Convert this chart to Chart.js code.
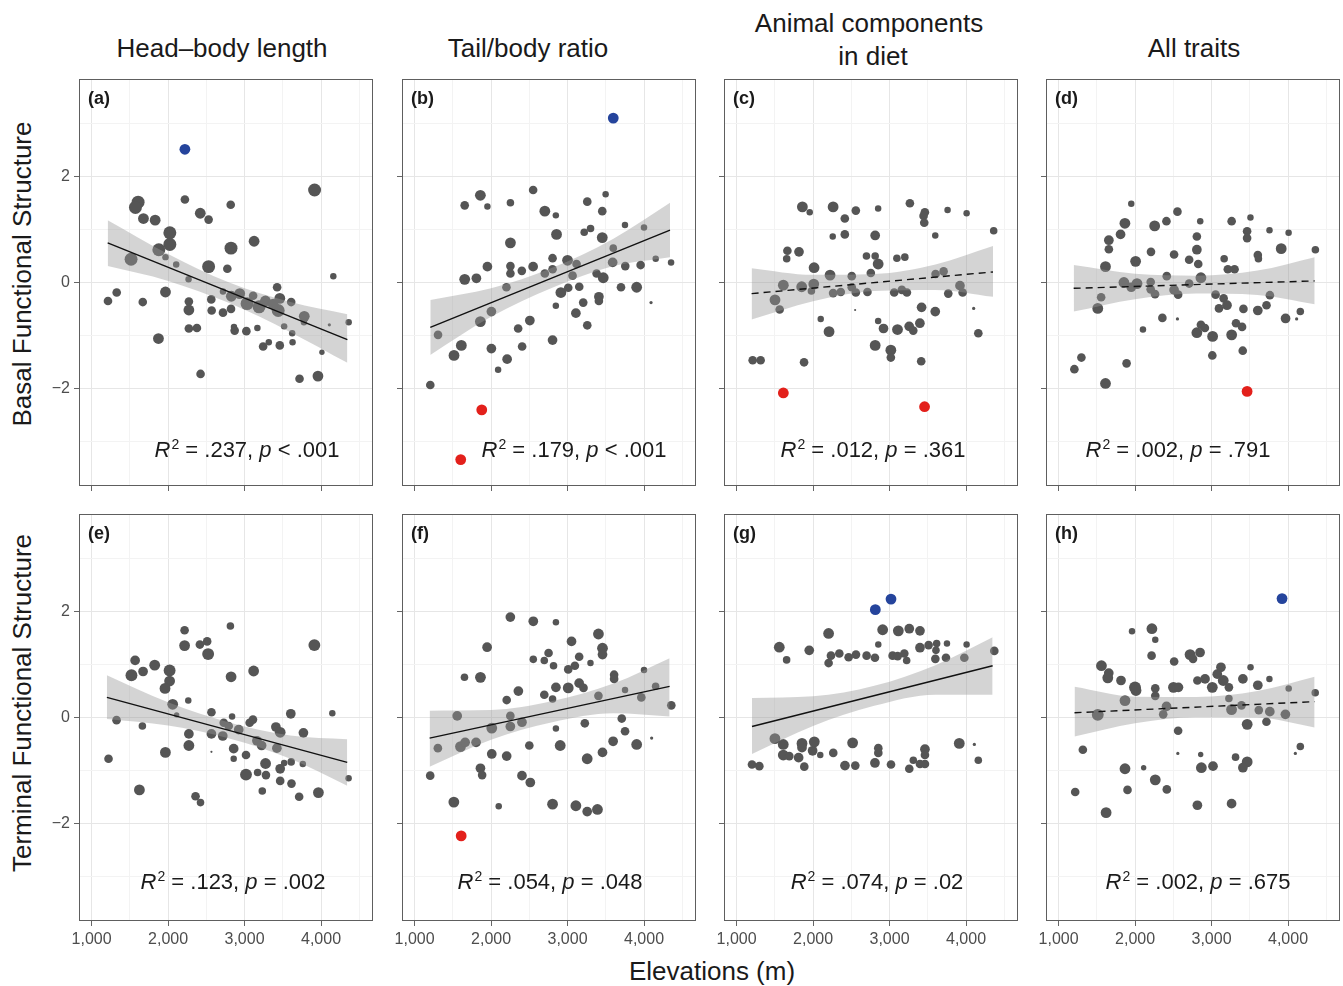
<!DOCTYPE html>
<html>
<head>
<meta charset="utf-8">
<title>Functional structure vs elevation</title>
<script src="https://cdn.jsdelivr.net/npm/chart.js@4.4.0/dist/chart.umd.min.js"></script>
<style>
  html, body { margin: 0; padding: 0; background: #fff; }
  body {
    width: 1343px; height: 986px; position: relative; overflow: hidden;
    font-family: "Liberation Sans", Arial, sans-serif; color: #1a1a1a;
  }
  .txt { position: absolute; transform: translate(-50%, -50%); white-space: nowrap; }
  .col-title { font-size: 26px; }
  .row-title { font-size: 26px; transform: translate(-50%, -50%) rotate(-90deg); }
  .axis-title { font-size: 26px; }
  .tag { position: absolute; font-size: 18px; font-weight: bold; transform: translateY(-50%); }
  .stat { font-size: 22px; }
  .stat sup { font-size: 14px; position: relative; top: -8px; vertical-align: baseline; line-height: 0; margin-left: 1px; }
  canvas { position: absolute; }
</style>
</head>
<body>
<div class="txt col-title" style="left:222px; top:48px;">Head–body length</div>
<div class="txt col-title" style="left:528px; top:48px;">Tail/body ratio</div>
<div class="txt col-title" style="left:869px; top:23px;">Animal components</div>
<div class="txt col-title" style="left:873px; top:56px;">in diet</div>
<div class="txt col-title" style="left:1194px; top:48px;">All traits</div>
<div class="txt row-title" style="left:22px; top:274px;">Basal Functional Structure</div>
<div class="txt row-title" style="left:22px; top:703px;">Terminal Functional Structure</div>
<div class="txt axis-title" style="left:712px; top:971px;">Elevations (m)</div>

<script>
// axis ticks
const elevTicks = [1000, 1500, 2000, 2500, 3000, 3500, 4000, 4500];
const elevLabels = ["1,000", "", "2,000", "", "3,000", "", "4,000", ""];
const scoreTicks = [-3, -2, -1, 0, 1, 2, 3];
const scoreLabels = ["", "\u22122", "", "0", "", "2", ""];

const panelTags = ["(a)", "(b)", "(c)", "(d)", "(e)", "(f)", "(g)", "(h)"];
const r2Values = [".237", ".179", ".012", ".002", ".123", ".054", ".074", ".002"];
const pValues = ["< .001", "< .001", "= .361", "= .791", "= .002", "= .048", "= .02", "= .675"];

// (a) Head-body length, basal
const aElev = [3916, 2220, 1608, 1573, 2819, 2421, 2530, 1678, 1831, 2023, 2023, 1879, 1516, 1966, 2106, 3125, 2823, 2530, 2775, 4161, 2268, 1214, 1328, 1669, 1966, 2272, 2272, 2565, 2570, 2718, 2718, 2827, 2823, 2937, 3033, 3112, 3190, 3273, 3426, 3461, 3440, 3374, 3610, 3781, 3777, 4109, 4362, 2272, 2377, 2862, 2871, 3024, 3168, 3518, 1874, 3243, 3317, 3461, 3623, 3628, 4012, 2425, 3719, 3960];
const aScore = [1.75, 1.57, 1.52, 1.42, 1.47, 1.31, 1.19, 1.21, 1.18, 0.94, 0.72, 0.62, 0.44, 0.48, 0.34, 0.78, 0.65, 0.30, 0.26, 0.12, 0.06, -0.35, -0.19, -0.37, -0.18, -0.36, -0.52, -0.32, -0.53, -0.57, -0.17, -0.26, -0.50, -0.21, -0.40, -0.25, -0.46, -0.35, -0.09, -0.30, -0.53, -0.41, -0.37, -0.64, -0.75, -0.80, -0.75, -0.87, -0.86, -0.84, -0.91, -0.92, -0.86, -0.83, -1.06, -1.21, -1.13, -1.19, -0.96, -1.13, -1.32, -1.73, -1.82, -1.77];
const aSize = [6, 4, 6, 6, 4, 5, 4, 5, 5, 6, 6, 6, 6, 3, 3, 5, 6, 6, 4, 3, 3, 4, 4, 4, 5, 4, 5, 4, 4, 4, 3, 5, 4, 5, 6, 4, 6, 5, 4, 5, 6, 5, 4, 5, 3, 1.5, 3, 4, 4, 3, 4, 4, 3, 3, 5, 4, 3, 4, 3, 3, 2.5, 4, 4, 5];
const aOddElev = [2220];
const aOddScore = [2.52];
const aOddColor = ["blue"];
const aFitElev = [1210, 4345];
const aFitScore = [0.75, -1.08];
const aBandElev = [1210, 2000, 2800, 3600, 4345];
const aBandUpper = [1.18, 0.54, 0.0, -0.37, -0.60];
const aBandLower = [0.31, 0.03, -0.39, -0.94, -1.52];

// (b) Tail/body ratio, basal
const bElev = [1205, 1860, 1655, 1952, 2253, 2550, 2703, 2847, 3258, 3498, 3454, 2253, 2856, 3218, 3301, 3454, 3751, 4000, 3598, 1952, 2253, 2253, 2402, 2550, 2703, 2804, 2804, 3000, 3118, 3066, 3380, 3467, 3590, 3755, 3956, 4153, 4354, 1655, 1808, 2201, 2913, 3009, 3153, 3410, 3410, 3699, 3904, 4092, 3205, 2847, 3109, 3258, 2004, 1860, 2507, 2354, 1306, 1611, 1515, 2004, 2406, 2804, 2210, 2092];
const bScore = [-1.94, 1.65, 1.46, 1.44, 1.51, 1.75, 1.35, 1.27, 1.53, 1.67, 1.35, 0.75, 0.91, 0.95, 1.02, 0.85, 1.09, 1.04, 0.65, 0.30, 0.31, 0.17, 0.22, 0.30, 0.17, 0.46, 0.25, 0.42, 0.35, 0.13, 0.17, 0.09, 0.38, 0.31, 0.33, 0.45, 0.38, 0.06, 0.08, -0.09, -0.19, -0.10, -0.08, -0.27, -0.35, -0.09, -0.09, -0.38, -0.38, -0.44, -0.58, -0.81, -0.55, -0.74, -0.72, -0.87, -0.99, -1.19, -1.38, -1.25, -1.21, -1.09, -1.45, -1.65];
const bSize = [4, 5, 4, 3, 3.5, 4, 5, 3, 4, 3, 4, 5, 5, 3.5, 3.5, 5, 3, 3, 3.5, 4.5, 4, 4, 4, 4.5, 4, 4, 4, 5, 4, 4, 4, 5, 4.5, 4, 4, 3, 3, 5, 4.5, 4, 5, 4, 4, 4.5, 4, 4, 5, 1.5, 4, 3, 4.5, 4, 4.5, 5, 4.5, 4, 4, 5, 5, 4.5, 4, 4.5, 4.5, 3];
const bOddElev = [3598, 1878, 1603];
const bOddScore = [3.11, -2.41, -3.35];
const bOddColor = ["blue", "red", "red"];
const bFitElev = [1205, 4340];
const bFitScore = [-0.85, 0.99];
const bBandElev = [1205, 2000, 2800, 3600, 4340];
const bBandUpper = [-0.33, -0.11, 0.28, 0.83, 1.51];
const bBandLower = [-1.37, -0.65, -0.10, 0.31, 0.48];

// (c) Animal components in diet, basal
const cElev = [1860, 1956, 2262, 2415, 2559, 2851, 3266, 3462, 3445, 3454, 3759, 4008, 4362, 2257, 2415, 2812, 3598, 1664, 1655, 1816, 2698, 2812, 2851, 3096, 3200, 2013, 2222, 2506, 2755, 3602, 3707, 1611, 1851, 2009, 1502, 1563, 1978, 2262, 2362, 2506, 2559, 2711, 3061, 3161, 3227, 3768, 3921, 3956, 2550, 3419, 3598, 4100, 2100, 2209, 2851, 2921, 3104, 3257, 3310, 3397, 4161, 2812, 3017, 3017, 1210, 1314, 1882, 3414];
const cScore = [1.43, 1.33, 1.43, 1.21, 1.36, 1.40, 1.50, 1.33, 1.26, 1.13, 1.37, 1.31, 0.98, 0.87, 0.91, 0.89, 0.89, 0.60, 0.45, 0.58, 0.50, 0.50, 0.35, 0.46, 0.48, 0.28, 0.14, 0.12, 0.18, 0.16, 0.21, -0.05, -0.08, -0.03, -0.33, -0.51, -0.16, -0.20, -0.18, -0.09, -0.19, -0.18, -0.19, -0.14, -0.19, -0.21, -0.06, -0.19, -0.52, -0.47, -0.55, -0.49, -0.69, -0.93, -0.73, -0.87, -0.89, -0.83, -0.91, -0.77, -0.96, -1.19, -1.28, -1.42, -1.47, -1.47, -1.51, -1.49];
const cSize = [5, 3, 5, 4, 4, 3, 4, 4, 4, 4, 3, 3, 3.5, 3, 4, 4.5, 3, 4, 3.5, 4.5, 3.5, 3.5, 5, 3.5, 3.5, 5, 5, 4, 4, 4, 4, 5, 5, 5, 5, 4, 3.5, 4, 4, 4, 4, 4, 4, 4, 4, 4, 4.5, 4, 1, 4.5, 4.5, 1.5, 3, 5, 3, 4.5, 5, 4.5, 4, 4.5, 4, 5, 5, 4, 4, 4, 4, 4];
const cOddElev = [1611, 3458];
const cOddScore = [-2.09, -2.35];
const cOddColor = ["red", "red"];
const cFitElev = [1196, 4353];
const cFitScore = [-0.21, 0.20];
const cBandElev = [1196, 2000, 2800, 3600, 4353];
const cBandUpper = [0.27, 0.145, 0.16, 0.34, 0.69];
const cBandLower = [-0.70, -0.355, -0.16, -0.14, -0.27];

// (d) All traits, basal
const dElev = [1950, 2554, 1867, 2256, 2410, 2852, 3263, 3509, 3465, 3465, 3758, 4008, 1810, 1657, 1657, 2808, 2808, 2208, 2510, 2007, 2707, 2826, 3165, 3213, 3301, 3605, 3613, 3911, 4358, 1613, 2414, 2861, 1854, 1950, 2025, 2204, 2261, 2204, 2510, 2563, 2707, 3053, 3158, 3097, 3202, 3763, 1556, 1512, 3417, 3605, 3719, 4161, 4113, 3968, 2357, 2554, 2103, 2861, 2913, 2808, 3014, 3263, 3320, 3399, 3408, 3010, 1298, 1206, 1889, 1613];
const dScore = [1.49, 1.34, 1.12, 1.07, 1.16, 1.16, 1.16, 1.23, 0.97, 0.84, 0.99, 0.94, 0.91, 0.80, 0.63, 0.87, 0.62, 0.58, 0.53, 0.40, 0.43, 0.35, 0.45, 0.25, 0.25, 0.52, 0.45, 0.64, 0.62, 0.30, 0.12, 0.09, 0.00, -0.09, -0.02, 0.01, -0.22, -0.13, -0.14, -0.23, -0.02, -0.23, -0.30, -0.49, -0.43, -0.24, -0.28, -0.49, -0.50, -0.53, -0.43, -0.55, -0.69, -0.68, -0.67, -0.69, -0.89, -0.80, -0.86, -0.95, -1.02, -0.99, -0.77, -0.84, -1.29, -1.38, -1.42, -1.64, -1.53, -1.91];
const dSize = [3, 4, 5, 5, 4, 3, 4, 3, 4, 4, 3, 3, 4.5, 4.5, 4, 4, 4.5, 4, 4, 5, 4, 4, 3.5, 4, 4, 4, 3.5, 5, 3.5, 5, 4, 5, 5, 4.5, 5, 4, 4, 4, 4.5, 4, 4, 4, 4, 4, 4.5, 4, 4, 5, 4, 4.5, 4, 3.5, 1.5, 4.5, 4, 1.5, 3, 4, 4, 5, 5, 5, 4, 4, 4, 4, 4, 4, 4, 5];
const dOddElev = [3465];
const dOddScore = [-2.06];
const dOddColor = ["red"];
const dFitElev = [1197, 4349];
const dFitScore = [-0.11, 0.03];
const dBandElev = [1197, 2000, 2800, 3600, 4349];
const dBandUpper = [0.33, 0.165, 0.13, 0.225, 0.48];
const dBandLower = [-0.55, -0.315, -0.21, -0.235, -0.41];

// (e) Head-body length, terminal
const eElev = [2815, 2216, 2216, 2416, 2511, 2524, 3913, 1569, 1521, 1673, 1825, 2020, 2020, 3119, 2824, 1960, 2060, 2264, 2112, 2567, 2837, 3605, 4148, 1326, 1664, 2272, 2272, 2567, 2715, 2728, 2793, 2924, 3067, 3110, 3162, 3223, 3410, 3466, 3423, 3770, 2567, 2858, 2858, 3019, 3275, 3518, 3610, 3762, 1221, 1965, 3019, 3171, 3280, 3466, 3466, 3614, 4361, 1625, 3232, 3714, 3966, 2359, 2424];
const eScore = [1.73, 1.65, 1.36, 1.38, 1.44, 1.20, 1.37, 1.08, 0.80, 0.87, 0.99, 0.89, 0.69, 0.88, 0.77, 0.55, 0.25, 0.32, 0.05, 0.10, 0.02, 0.07, 0.08, -0.05, -0.16, -0.31, -0.53, -0.31, -0.35, -0.10, -0.16, -0.23, -0.10, -0.04, -0.44, -0.53, -0.18, -0.28, -0.58, -0.29, -0.65, -0.59, -0.78, -0.71, -0.87, -0.86, -0.84, -0.88, -0.78, -0.66, -1.08, -1.04, -1.09, -0.97, -1.20, -1.25, -1.15, -1.37, -1.39, -1.50, -1.42, -1.49, -1.61];
const eSize = [3.5, 4, 5, 4, 4, 5.5, 5.5, 4.5, 5.5, 4.5, 5, 5.5, 5, 5, 5, 5, 5, 3, 2.5, 4, 3, 4.5, 3, 4, 3.5, 4.5, 5, 4.5, 4.5, 4, 4, 4.5, 4, 4, 4.5, 4.5, 4.5, 5, 4.5, 4.5, 1, 4.5, 3, 4, 5, 3, 3.5, 3, 4, 5, 5.5, 3.5, 4, 4.5, 4, 4, 3, 5, 3.5, 4, 5, 4, 3.5];
const eOddElev = [];
const eOddScore = [];
const eOddColor = [];
const eFitElev = [1200, 4343];
const eFitScore = [0.38, -0.85];
const eBandElev = [1200, 2000, 2800, 3600, 4343];
const eBandUpper = [0.80, 0.287, -0.096, -0.339, -0.41];
const eBandLower = [-0.03, -0.153, -0.396, -0.779, -1.29];

// (f) Tail/body ratio, terminal
const fElev = [2252, 2552, 2848, 3404, 1948, 3052, 3457, 3457, 2752, 2552, 2696, 2817, 3152, 3300, 3009, 3096, 1652, 1861, 4000, 3609, 3609, 2357, 2848, 3009, 3152, 3209, 2696, 2804, 2204, 3404, 3752, 3965, 4152, 4357, 1557, 2252, 2404, 2252, 2009, 2848, 3226, 3709, 3752, 1304, 1600, 1661, 1804, 2500, 2904, 3596, 3904, 4100, 2009, 2204, 3457, 3257, 1204, 1861, 1883, 2404, 2513, 1513, 2100, 2804, 3109, 3257, 3391];
const fScore = [1.90, 1.82, 1.80, 1.58, 1.33, 1.44, 1.31, 1.19, 1.22, 1.10, 1.08, 0.98, 1.15, 1.03, 0.91, 0.98, 0.76, 0.76, 0.90, 0.81, 0.73, 0.50, 0.57, 0.56, 0.65, 0.56, 0.43, 0.35, 0.33, 0.41, 0.52, 0.38, 0.59, 0.23, 0.03, 0.03, -0.09, -0.17, -0.20, -0.21, -0.11, -0.02, -0.26, -0.58, -0.55, -0.47, -0.47, -0.53, -0.53, -0.45, -0.51, -0.39, -0.69, -0.73, -0.66, -0.78, -1.10, -0.96, -1.09, -1.10, -1.23, -1.60, -1.68, -1.64, -1.67, -1.78, -1.74];
const fSize = [4.5, 4.5, 3, 5, 4.5, 4.5, 5, 4.5, 4, 3.5, 3.5, 3.5, 4, 3, 4, 4, 3.5, 5, 3, 4, 4, 4.5, 4.5, 5, 4.5, 4, 4, 3.5, 4, 4, 3, 4, 3.5, 4, 4.5, 4, 4.5, 4.5, 5, 3, 4, 4, 4, 4, 5, 4.5, 4.5, 4, 5, 4.5, 5, 1.5, 4.5, 4.5, 4.5, 5, 4, 4.5, 4, 4.5, 4.5, 5, 3, 5, 5, 4.5, 5];
const fOddElev = [1609];
const fOddScore = [-2.24];
const fOddColor = ["red"];
const fFitElev = [1196, 4335];
const fFitScore = [-0.39, 0.59];
const fBandElev = [1196, 2000, 2800, 3600, 4335];
const fBandUpper = [0.13, 0.141, 0.311, 0.641, 1.12];
const fBandLower = [-0.93, -0.419, -0.089, 0.081, 0.02];

// (g) Animal components in diet, terminal
const gElev = [2910, 3115, 3258, 3398, 2203, 1558, 1950, 1654, 2853, 2234, 2203, 2343, 2465, 2561, 2700, 2809, 3040, 3106, 3193, 3224, 3398, 3511, 3616, 3751, 3607, 3599, 3738, 3978, 4008, 4370, 1501, 1610, 1610, 1855, 2016, 1994, 2094, 1811, 1855, 2264, 2517, 2853, 2853, 3463, 3463, 3912, 4109, 1201, 1297, 1689, 1885, 2417, 2552, 2809, 3019, 3258, 3311, 3398, 3463, 4161];
const gScore = [1.66, 1.64, 1.68, 1.64, 1.59, 1.33, 1.27, 1.09, 1.38, 1.17, 1.03, 1.21, 1.14, 1.19, 1.17, 1.13, 1.17, 1.16, 1.21, 1.08, 1.32, 1.37, 1.40, 1.40, 1.27, 1.11, 1.13, 1.13, 1.38, 1.26, -0.40, -0.51, -0.71, -0.49, -0.46, -0.63, -0.71, -0.76, -0.57, -0.67, -0.48, -0.58, -0.67, -0.60, -0.71, -0.49, -0.51, -0.89, -0.92, -0.73, -0.93, -0.91, -0.91, -0.86, -0.89, -0.97, -0.81, -0.88, -0.88, -0.81];
const gSize = [5, 5, 4.5, 4.5, 5, 5, 4.5, 3.5, 3, 4, 4, 4, 4, 4, 4, 4, 4, 4, 4, 3.5, 4.5, 4, 3.5, 3, 3.5, 4, 4, 4, 3, 4, 5, 5, 5, 5, 5, 4.5, 3, 4.5, 4.5, 4, 5, 4, 4, 4.5, 4, 5, 1.5, 4, 4, 4, 4, 4.5, 4, 4.5, 4, 4, 3.5, 4, 4, 3.5];
const gOddElev = [2814, 3019];
const gOddScore = [2.04, 2.24];
const gOddColor = ["blue", "blue"];
const gFitElev = [1201, 4348];
const gFitScore = [-0.17, 0.98];
const gBandElev = [1201, 2000, 2800, 3600, 4348];
const gBandUpper = [0.37, 0.40, 0.60, 0.99, 1.52];
const gBandLower = [-0.69, -0.16, 0.22, 0.43, 0.43];

// (h) All traits, terminal
const hElev = [2220, 1960, 2264, 2216, 2719, 2850, 2758, 2511, 1560, 1656, 1643, 1816, 1999, 2012, 2264, 2264, 2502, 2567, 2815, 2915, 3010, 3075, 3123, 3153, 3227, 3410, 3510, 3605, 3757, 4009, 4356, 1868, 2411, 3227, 3262, 1512, 2368, 3392, 3618, 3762, 3966, 3466, 3718, 2563, 1317, 4161, 4096, 2559, 2858, 3314, 3466, 3410, 1868, 2112, 2867, 3019, 2264, 1901, 2415, 1217, 2815, 3262, 1621];
const hScore = [1.68, 1.63, 1.47, 1.17, 1.19, 1.23, 1.11, 1.06, 0.98, 0.84, 0.75, 0.70, 0.57, 0.51, 0.55, 0.41, 0.57, 0.57, 0.70, 0.73, 0.57, 0.82, 0.95, 0.70, 0.57, 0.73, 0.95, 0.61, 0.73, 0.55, 0.47, 0.32, 0.21, 0.36, 0.15, 0.05, 0.06, 0.23, 0.14, 0.11, 0.06, -0.13, -0.08, -0.25, -0.61, -0.55, -0.68, -0.68, -0.70, -0.75, -0.84, -0.95, -0.97, -0.95, -0.95, -0.92, -1.18, -1.37, -1.36, -1.41, -1.66, -1.63, -1.80];
const hSize = [5, 3, 3, 4, 5, 4.5, 4, 4, 5, 4.5, 5, 4.5, 5.5, 5, 4, 4, 5, 4.5, 4, 4.5, 5, 4.5, 4.5, 5, 4, 4.5, 3, 4.5, 3, 3, 3.5, 5, 4.5, 3.5, 5, 5.5, 4, 4, 4, 4.5, 4.5, 5, 4, 4, 4, 3.5, 1.5, 1.5, 2.5, 3.5, 5, 4.5, 5, 2.5, 5, 4.5, 5, 4, 4, 4, 4.5, 4.5, 5];
const hOddElev = [3922];
const hOddScore = [2.25];
const hOddColor = ["blue"];
const hFitElev = [1208, 4348];
const hFitScore = [0.09, 0.30];
const hBandElev = [1208, 2000, 2800, 3600, 4348];
const hBandUpper = [0.58, 0.393, 0.386, 0.499, 0.77];
const hBandLower = [-0.36, -0.107, 0.006, -0.001, -0.19];

// layout
const panelLeft = [79, 402, 724, 1046];
const panelTop = [79, 514];
const panelW = 294;
const panelH = 407;
const axisPad = 40;
const edgePad = 9; // room above/right of the panel, more than the largest bubble radius
const sizeScale = 1.08;
const statCenter = [[247, 450], [574, 450], [873, 450], [1178, 450], [233, 882], [550, 882], [877, 882], [1198, 882]];

const pointGray = "#555555";
const oddColors = { red: "#e3201b", blue: "#25449c" };
const fontFamily = '"Liberation Sans", Arial, sans-serif';

const panels = [
  { elev: aElev, score: aScore, size: aSize, oddElev: aOddElev, oddScore: aOddScore, oddColor: aOddColor, fitElev: aFitElev, fitScore: aFitScore, bandElev: aBandElev, bandUpper: aBandUpper, bandLower: aBandLower, dashed: false },
  { elev: bElev, score: bScore, size: bSize, oddElev: bOddElev, oddScore: bOddScore, oddColor: bOddColor, fitElev: bFitElev, fitScore: bFitScore, bandElev: bBandElev, bandUpper: bBandUpper, bandLower: bBandLower, dashed: false },
  { elev: cElev, score: cScore, size: cSize, oddElev: cOddElev, oddScore: cOddScore, oddColor: cOddColor, fitElev: cFitElev, fitScore: cFitScore, bandElev: cBandElev, bandUpper: cBandUpper, bandLower: cBandLower, dashed: true },
  { elev: dElev, score: dScore, size: dSize, oddElev: dOddElev, oddScore: dOddScore, oddColor: dOddColor, fitElev: dFitElev, fitScore: dFitScore, bandElev: dBandElev, bandUpper: dBandUpper, bandLower: dBandLower, dashed: true },
  { elev: eElev, score: eScore, size: eSize, oddElev: eOddElev, oddScore: eOddScore, oddColor: eOddColor, fitElev: eFitElev, fitScore: eFitScore, bandElev: eBandElev, bandUpper: eBandUpper, bandLower: eBandLower, dashed: false },
  { elev: fElev, score: fScore, size: fSize, oddElev: fOddElev, oddScore: fOddScore, oddColor: fOddColor, fitElev: fFitElev, fitScore: fFitScore, bandElev: fBandElev, bandUpper: fBandUpper, bandLower: fBandLower, dashed: false },
  { elev: gElev, score: gScore, size: gSize, oddElev: gOddElev, oddScore: gOddScore, oddColor: gOddColor, fitElev: gFitElev, fitScore: gFitScore, bandElev: gBandElev, bandUpper: gBandUpper, bandLower: gBandLower, dashed: false },
  { elev: hElev, score: hScore, size: hSize, oddElev: hOddElev, oddScore: hOddScore, oddColor: hOddColor, fitElev: hFitElev, fitScore: hFitScore, bandElev: hBandElev, bandUpper: hBandUpper, bandLower: hBandLower, dashed: true },
];

// grey box round each panel, drawn over everything like ggplot's panel.border
const panelFrame = {
  id: "panelFrame",
  afterDatasetsDraw(chart) {
    const { ctx, chartArea: a } = chart;
    ctx.save();
    ctx.strokeStyle = "#5e5e5e";
    ctx.lineWidth = 1;
    ctx.strokeRect(a.left + 0.5, a.top + 0.5, a.right - a.left - 1, a.bottom - a.top - 1);
    ctx.restore();
  },
};

const toXY = (xs, ys) => xs.map((x, i) => ({ x, y: ys[i] }));

function addText(cls, html, left, top) {
  const el = document.createElement("div");
  el.className = cls;
  el.innerHTML = html;
  el.style.left = left + "px";
  el.style.top = top + "px";
  document.body.appendChild(el);
}

function drawPanel(p, idx) {
  const row = Math.floor(idx / 4);
  const col = idx % 4;
  const showX = row === 1;
  const showY = col === 0;

  const canvas = document.createElement("canvas");
  canvas.width = panelW + axisPad + edgePad;
  canvas.height = panelH + axisPad + edgePad;
  canvas.style.left = panelLeft[col] - axisPad + "px";
  canvas.style.top = panelTop[row] - edgePad + "px";
  canvas.style.width = canvas.width + "px";
  canvas.style.height = canvas.height + "px";
  document.body.appendChild(canvas);

  const tickFont = { family: fontFamily, size: 16 };

  new Chart(canvas, {
    type: "bubble",
    data: {
      datasets: [
        {
          type: "line",
          data: toXY(p.bandElev, p.bandUpper),
          borderColor: "rgba(0,0,0,0)",
          pointRadius: 0,
          fill: "+1",
          backgroundColor: "rgba(153,153,153,0.42)",
          cubicInterpolationMode: "monotone",
          order: 1,
        },
        {
          type: "line",
          data: toXY(p.bandElev, p.bandLower),
          borderColor: "rgba(0,0,0,0)",
          pointRadius: 0,
          fill: false,
          cubicInterpolationMode: "monotone",
          order: 1,
        },
        {
          type: "line",
          data: toXY(p.fitElev, p.fitScore),
          borderColor: "#111111",
          borderWidth: 1.4,
          borderDash: p.dashed ? [7, 5] : [],
          pointRadius: 0,
          fill: false,
          order: 0,
        },
        {
          data: p.elev.map((x, i) => ({ x, y: p.score[i], r: (p.size[i] ?? 4) * sizeScale })),
          backgroundColor: pointGray,
          borderWidth: 0,
          order: 2,
        },
        {
          data: p.oddElev.map((x, i) => ({ x, y: p.oddScore[i], r: 5 * sizeScale })),
          backgroundColor: p.oddColor.map((c) => oddColors[c]),
          borderWidth: 0,
          order: 2,
        },
      ],
    },
    options: {
      responsive: false,
      animation: false,
      events: [],
      layout: { padding: { top: edgePad, right: edgePad, left: 0, bottom: 0 } },
      plugins: { legend: { display: false }, tooltip: { enabled: false } },
      scales: {
        x: {
          type: "linear",
          min: 835,
          max: 4680,
          bounds: "data",
          afterBuildTicks: (s) => {
            s.ticks = elevTicks.map((v) => ({ value: v }));
          },
          afterFit: (s) => {
            s.height = axisPad;
            s.paddingLeft = 0;
            s.paddingRight = 0;
          },
          border: { display: false },
          grid: {
            color: (c) => (c.tick && c.tick.value % 1000 === 0 ? "#e6e6e6" : "#f3f3f3"),
            lineWidth: 1,
            tickLength: 5,
            tickColor: (c) => (c.tick && c.tick.value % 1000 === 0 ? "#666666" : "rgba(0,0,0,0)"),
          },
          ticks: {
            autoSkip: false,
            maxRotation: 0,
            padding: 4,
            color: "#4d4d4d",
            font: tickFont,
            callback: (v) => (showX ? elevLabels[elevTicks.indexOf(v)] : ""),
          },
        },
        y: {
          type: "linear",
          min: -3.85,
          max: 3.85,
          bounds: "data",
          afterBuildTicks: (s) => {
            s.ticks = scoreTicks.map((v) => ({ value: v }));
          },
          afterFit: (s) => {
            s.width = axisPad;
            s.paddingTop = 0;
            s.paddingBottom = 0;
          },
          border: { display: false },
          grid: {
            color: (c) => (c.tick && c.tick.value % 2 === 0 ? "#e6e6e6" : "#f3f3f3"),
            lineWidth: 1,
            tickLength: 5,
            tickColor: (c) => (c.tick && c.tick.value % 2 === 0 ? "#666666" : "rgba(0,0,0,0)"),
          },
          ticks: {
            autoSkip: false,
            padding: 4,
            color: "#4d4d4d",
            font: tickFont,
            callback: (v) => (showY ? scoreLabels[scoreTicks.indexOf(v)] : ""),
          },
        },
      },
    },
    plugins: [panelFrame],
  });

  addText("tag", panelTags[idx], panelLeft[col] + 9, panelTop[row] + 19);
  const [sx, sy] = statCenter[idx];
  addText(
    "txt stat",
    `<i>R</i><sup>2</sup> = ${r2Values[idx]}, <i>p</i> ${pValues[idx].replace("<", "&lt;")}`,
    sx,
    sy,
  );
}

document.addEventListener("DOMContentLoaded", () => {
  panels.forEach(drawPanel);
});
</script>
</body>
</html>
